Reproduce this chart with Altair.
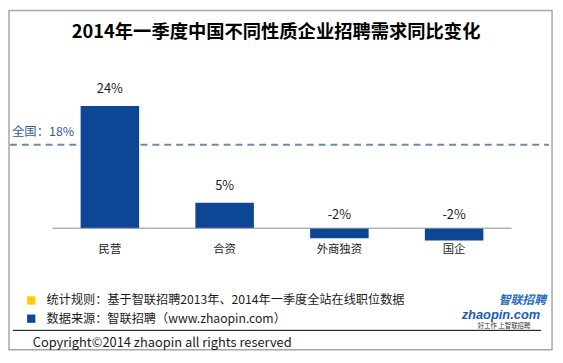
import altair as alt
import pandas as pd

# ---- data ----
categories = ['民营', '合资', '外商独资', '国企']
values = [24.0, 5.0, -2.0, -2.4]
value_labels = ['24%', '5%', '-2%', '-2%']
national_value = 16.4          # where the dashed line sits on the value scale
national_label = '全国：18%'
title_text = '2014年一季度中国不同性质企业招聘需求同比变化'
legend_items = ['统计规则：基于智联招聘2013年、2014年一季度全站在线职位数据',
                '数据来源：智联招聘（www.zhaopin.com）']
legend_colors = ['#FFCC00', '#0B4A9A']
copyright_text = 'Copyright©2014 zhaopin all rights reserved'
logo_cn = '智联招聘'
logo_en = 'zhaopin.com'
logo_slogan = '好工作  上智联招聘'

FONT = 'Noto Sans CJK SC'
BAR = '#0D4694'

df = pd.DataFrame({'cat': categories, 'val': values, 'lab': value_labels})

W, H = 464, 164.7
xs = alt.X('cat:N', sort=categories, axis=None,
           scale=alt.Scale(domain=categories, paddingInner=0.49, paddingOuter=0.245))
ys = alt.Scale(domain=[-4, 28], nice=False, zero=False)


def fixed_text(txt, x, y, size, **kw):
    return alt.Chart(pd.DataFrame({'t': [txt]})).mark_text(
        font=FONT, fontSize=size, baseline='middle', **kw
    ).encode(x=alt.value(x), y=alt.value(y), text='t:N')


border = alt.Chart(pd.DataFrame({'a': [0]})).mark_rect(
    fill='white', stroke='#A6A6A6', strokeWidth=1.5
).encode(x=alt.value(-44), x2=alt.value(505), y=alt.value(-76), y2=alt.value(267))

title = fixed_text(title_text, 226, -54.6, 18.5, fontWeight='bold', align='center', color='#000000')

nat = pd.DataFrame({'v': [national_value], 't': [national_label]})
nat_line = alt.Chart(nat).mark_rule(
    color='#6F89AE', strokeWidth=2, strokeDash=[7, 5]
).encode(x=alt.value(-43), x2=alt.value(502), y=alt.Y('v:Q', scale=ys, axis=None))
nat_text = alt.Chart(nat).mark_text(
    font=FONT, fontSize=12.5, align='left', baseline='middle', dy=-13, color='#2E5D9B'
).encode(x=alt.value(-41), y=alt.Y('v:Q', scale=ys, axis=None), text='t:N')

zero_rule = alt.Chart(pd.DataFrame({'v': [0]})).mark_rule(
    color='#8C8C8C', strokeWidth=1
).encode(x=alt.value(0), x2=alt.value(W), y=alt.Y('v:Q', scale=ys, axis=None))

bars = alt.Chart(df).mark_bar(color=BAR).encode(
    x=xs, y=alt.Y('val:Q', scale=ys, axis=None), y2=alt.datum(0)
)

base_lab = alt.Chart(df).transform_calculate(top='max(datum.val, 0)')
lab_pos = base_lab.transform_filter('datum.val >= 0').mark_text(
    font=FONT, fontSize=13, baseline='middle', dy=-17, color='#1A1A1A'
).encode(x=xs, y=alt.Y('top:Q', scale=ys, axis=None), text='lab:N')
lab_neg = base_lab.transform_filter('datum.val < 0').mark_text(
    font=FONT, fontSize=13, baseline='middle', dy=-13, color='#1A1A1A'
).encode(x=xs, y=alt.Y('top:Q', scale=ys, axis=None), text='lab:N')

cat_lab = alt.Chart(df).transform_calculate(z='0').mark_text(
    font=FONT, fontSize=11.5, baseline='middle', dy=22.5, color='#1A1A1A'
).encode(x=xs, y=alt.Y('z:Q', scale=ys, axis=None), text='cat:N')

leg = pd.DataFrame({'t': legend_items, 'c': legend_colors, 'y': [217.2, 235.6]})
leg_sq = alt.Chart(leg).mark_square(size=70, opacity=1).encode(
    x=alt.value(-21.5), y=alt.Y('y:Q', scale=None), color=alt.Color('c:N', scale=None)
)
leg_tx = alt.Chart(leg).mark_text(
    font=FONT, fontSize=12.3, align='left', baseline='middle', color='#1A1A1A'
).encode(x=alt.value(-6), y=alt.Y('y:Q', scale=None), text='t:N')

sep = alt.Chart(pd.DataFrame({'a': [0]})).mark_rule(color='#000000', strokeWidth=1).encode(
    x=alt.value(-40), x2=alt.value(494), y=alt.value(247.4)
)

copy_tx = fixed_text(copyright_text, -20, 260.5, 13, align='left', color='#1A1A1A')

logo1 = fixed_text(logo_cn, 499, 216.5, 12, align='right', fontWeight='bold',
                   fontStyle='italic', color='#2A6CC0')
logo2 = alt.Chart(pd.DataFrame({'t': [logo_en]})).mark_text(
    font='Liberation Sans', fontSize=13, fontWeight='bold', fontStyle='italic',
    align='right', baseline='middle', color='#1D5DB0'
).encode(x=alt.value(493), y=alt.value(231.5), text='t:N')
logo3 = fixed_text(logo_slogan, 456.5, 243.0, 6.5, align='center', color='#333333')

chart = alt.layer(
    border, title, nat_line, nat_text, bars, zero_rule, lab_pos, lab_neg, cat_lab,
    leg_sq, leg_tx, sep, copy_tx, logo1, logo2, logo3
).properties(
    width=W, height=H,
    autosize=alt.AutoSizeParams(type='none'),
    padding={'left': 45, 'top': 76.6, 'right': 44, 'bottom': 103.7},
    background='white'
).configure_view(stroke=None)

chart.save('out.html', embed_options={'renderer': 'svg', 'actions': False})
